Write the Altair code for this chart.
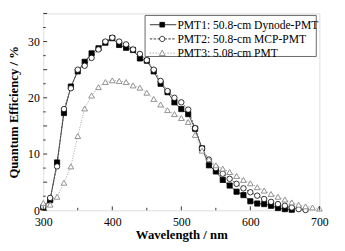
import altair as alt
import pandas as pd

wl1 = list(range(300, 661, 10))
pmt1 = [0.5, 1.8, 8.5, 17.3, 22.0, 24.7, 26.4, 27.9, 28.8, 29.8, 30.6, 29.4, 28.9, 28.5,
        27.0, 26.6, 24.7, 22.5, 21.0, 19.2, 18.0, 17.1, 14.5, 11.0, 8.0, 6.9, 5.4, 4.4,
        3.3, 2.7, 1.6, 1.2, 1.1, 0.8, 0.4, 0.2, 0.1]
wl2 = list(range(300, 681, 10))
pmt2 = [0.6, 2.2, 7.8, 18.0, 21.7, 25.0, 25.7, 27.1, 28.6, 30.0, 30.7, 30.0, 29.5, 28.6,
        27.8, 26.7, 25.0, 23.0, 21.2, 20.0, 19.2, 17.9, 14.6, 11.0, 9.0, 7.5, 6.5, 5.6,
        4.7, 3.9, 3.2, 2.6, 2.0, 1.5, 1.1, 0.8, 0.5, 0.2, 0.05]
wl3 = list(range(300, 701, 10))
pmt3 = [1.3, 1.0, 2.4, 4.9, 7.8, 13.2, 18.1, 20.4, 21.9, 22.8, 23.1, 23.0, 22.8, 22.2,
        21.8, 20.9, 19.8, 18.8, 17.8, 17.1, 16.4, 15.7, 13.4, 10.6, 9.1, 8.0, 7.4, 6.8,
        6.1, 5.4, 4.8, 4.1, 3.5, 2.9, 2.4, 1.9, 1.4, 1.0, 0.7, 0.5, 0.3]

names = ["PMT1: 50.8-cm Dynode-PMT", "PMT2: 50.8-cm MCP-PMT", "PMT3: 5.08-cm PMT"]
x_major = [300, 400, 500, 600, 700]
x_minor = [350, 450, 550, 650]
y_major = [0, 5, 10, 15, 20, 25, 30, 35]
y_minor = [2.5, 7.5, 12.5, 17.5, 22.5, 27.5, 32.5]

# legend frame extent, in axis units (decoration)
legend_frame = {"x0": [447.5], "x1": [695.5], "y0": [27.35], "y1": [34.65]}

rows = []
for wl, vals, n in [(wl1, pmt1, names[0]), (wl2, pmt2, names[1]), (wl3, pmt3, names[2])]:
    for w, v in zip(wl, vals):
        rows.append({"wl": w, "qe": v, "series": n})
df = pd.DataFrame(rows)

W, H = 282, 201
FONT = "Liberation Serif"

xs = alt.Scale(domain=[300, 700], nice=False)
ys = alt.Scale(domain=[0, 35], nice=False)

xax = alt.Axis(values=x_major, ticks=False, domain=False, grid=False, labelFontSize=12,
               labelFont=FONT, titleFont=FONT, titleFontSize=13, titleFontWeight="bold",
               labelPadding=7, titlePadding=1, labelColor="black", titleColor="black",
               labelFlush=False)
yax = alt.Axis(values=y_major, ticks=False, domain=False, grid=False, labelFontSize=12,
               labelFont=FONT, titleFont=FONT, titleFontSize=13, titleFontWeight="bold",
               labelPadding=4, titlePadding=7, labelColor="black", titleColor="black",
               labelFlush=False)

base = alt.Chart(df)

dash_scale = alt.Scale(domain=names, range=[[1, 0], [2, 1.5], [1, 1.5]])
col_scale = alt.Scale(domain=names, range=["#000000", "#444444", "#888888"])

lines = base.mark_line(strokeWidth=0.8).encode(
    x=alt.X("wl:Q", scale=xs, axis=xax, title="Wavelength / nm"),
    y=alt.Y("qe:Q", scale=ys, axis=yax, title="Quantum Efficiency / %"),
    strokeDash=alt.StrokeDash("series:N", scale=dash_scale, legend=None),
    stroke=alt.Stroke("series:N", scale=col_scale, legend=None),
    detail="series:N",
)

shape_scale = alt.Scale(domain=names, range=["square", "circle", "triangle-up"])
fill_scale = alt.Scale(domain=names, range=["#000000", "#ffffff", "#ffffff"])
pstroke_scale = alt.Scale(domain=names, range=["#000000", "#000000", "#777777"])
size_scale = alt.Scale(domain=names, range=[28, 34, 42])

points = base.mark_point(filled=True, strokeWidth=0.8, opacity=1).encode(
    x=alt.X("wl:Q", scale=xs),
    y=alt.Y("qe:Q", scale=ys),
    shape=alt.Shape("series:N", scale=shape_scale, legend=None),
    fill=alt.Fill("series:N", scale=fill_scale, legend=None),
    stroke=alt.Stroke("series:N", scale=pstroke_scale, legend=None),
    size=alt.Size("series:N", scale=size_scale, legend=None),
)

# legend frame drawn through the axis scales
frame = alt.Chart(pd.DataFrame(legend_frame)).mark_rect(
    fillOpacity=0, stroke="#666666", strokeWidth=1, color="#666666").encode(
    x=alt.X("x0:Q", scale=xs), x2="x1:Q",
    y=alt.Y("y0:Q", scale=ys), y2="y1:Q")

# legend layer (no marks drawn, only a legend); unit = 6px
c = 1.5
sq = f"M{c-0.4},-0.4H{c+0.4}V0.4H{c-0.4}Z"
circ = f"M{c-0.45},0A0.45,0.45 0 1,1 {c+0.45},0A0.45,0.45 0 1,1 {c-0.45},0Z"
tri = f"M{c},-0.5L{c+0.5},0.4L{c-0.5},0.4Z"
solid = f"M-0.6,0H{c-0.4}M{c+0.4},0H3.9"
dashed = "M-0.6,0H-0.2M0.05,0H0.45M0.7,0H1.0M2.0,0H2.3M2.55,0H2.95M3.2,0H3.6"
dotted = "M-0.6,0H-0.4M-0.1,0H0.1M0.4,0H0.6M0.85,0H0.95M2.05,0H2.15M2.4,0H2.6M2.9,0H3.1M3.4,0H3.6"
leg_shapes = [sq + solid, circ + dashed, tri + dotted]

legend_layer = base.transform_calculate(label="datum.series").transform_filter("false").mark_point(
    filled=False, strokeWidth=0.8, stroke="black").encode(
    x=alt.X("wl:Q", scale=xs),
    y=alt.Y("qe:Q", scale=ys),
    shape=alt.Shape("label:N", scale=alt.Scale(domain=names, range=leg_shapes),
                    legend=alt.Legend(title=None, orient="none", legendX=104, legendY=3,
                                      labelFont=FONT, labelFontSize=11.8, labelColor="black",
                                      labelLimit=400,
                                      symbolSize=144, symbolStrokeWidth=0.8,
                                      symbolStrokeColor="black", symbolOpacity=1,
                                      padding=2, rowPadding=0.5, labelOffset=18)),
    fill=alt.Fill("label:N", scale=alt.Scale(domain=names, range=["#000000", "#ffffff", "#ffffff"])),
    stroke=alt.Stroke("label:N", scale=alt.Scale(domain=names, range=["#000000", "#000000", "#777777"])),
)

xt_major = alt.Chart(pd.DataFrame({"v": x_major})).mark_rule(color="black", strokeWidth=0.8).encode(
    x=alt.X("v:Q", scale=xs), y=alt.value(H), y2=alt.value(H - 4))
xt_minor = alt.Chart(pd.DataFrame({"v": x_minor})).mark_rule(color="black", strokeWidth=0.8).encode(
    x=alt.X("v:Q", scale=xs), y=alt.value(H), y2=alt.value(H - 2.5))
yt_major = alt.Chart(pd.DataFrame({"v": y_major})).mark_rule(color="black", strokeWidth=0.8).encode(
    y=alt.Y("v:Q", scale=ys), x=alt.value(0), x2=alt.value(4))
yt_minor = alt.Chart(pd.DataFrame({"v": y_minor})).mark_rule(color="black", strokeWidth=0.8).encode(
    y=alt.Y("v:Q", scale=ys), x=alt.value(0), x2=alt.value(2.5))

chart = alt.layer(lines, points, frame, legend_layer,
                  xt_major, xt_minor, yt_major, yt_minor).resolve_scale(
    shape="independent", fill="independent", stroke="independent"
).properties(
    width=W, height=H,
    autosize=alt.AutoSizeParams(type="none"),
    padding={"left": 36, "top": 3, "right": 18, "bottom": 38},
).configure_view(stroke="black", strokeWidth=1).configure(background="white")

chart.save("out.html", embed_options={"renderer": "svg", "actions": False})
